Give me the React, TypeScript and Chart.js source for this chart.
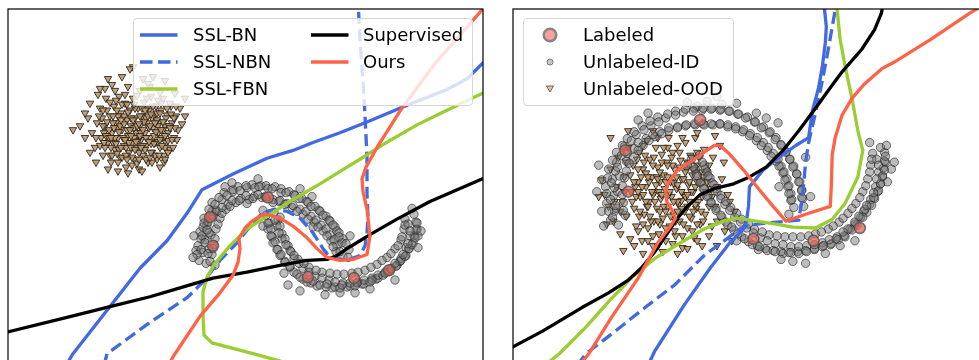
import React, { useEffect, useRef } from "react";
import { Chart, registerables } from "chart.js";
Chart.register(...registerables);

type P = [number, number];

// ---------- Left panel (values read on the figure's own grid) ----------
const leftBN: P[] = [[66,372],[73,360],[110,312],[140,273],[167,245],[187,217],[202,193],[233,177],[267,161],[293,153],[313,145],[340,135],[367,124],[407,107],[447,91],[467,80],[482,65],[492,55]];
const leftNBN: P[] = [[104,372],[107,360],[150,328],[187,303],[203,287],[220,265],[237,247],[252,228],[263,216],[275,213],[287,215],[300,222],[313,237],[323,253],[330,262],[347,265],[360,260],[365,250],[367,237],[368,220],[367,197],[367,160],[365,117],[363,83],[360,40],[358,0]];
const leftFBN: P[] = [[300,373],[253,360],[212,349],[204,341],[203,320],[203,297],[207,282],[215,268],[230,250],[247,233],[267,220],[293,203],[320,187],[347,170],[360,162],[383,147],[417,127],[447,112],[482,95],[495,90]];
const leftSUP: P[] = [[0,340],[7,338],[67,323],[110,312],[150,302],[180,293],[213,283],[247,277],[280,270],[307,265],[327,264],[337,260],[347,253],[360,245],[373,237],[397,223],[430,205],[482,182],[495,176]];
const leftOURS: P[] = [[168,372],[175,360],[200,322],[220,298],[233,280],[238,267],[240,253],[239,243],[245,232],[252,225],[260,220],[267,218],[280,222],[293,230],[307,242],[317,253],[327,262],[340,265],[353,264],[367,259],[370,240],[367,213],[363,195],[362,182],[366,170],[377,150],[400,113],[433,67],[482,10],[490,0]];

const leftLabeled: P[] = [[210,221],[213,250],[268,201],[308,282],[354,283],[389,275]];

const leftID: P[] = [
  [199,265],[206,268],[212,259],[203,257],[210,266],[198,250],[205,244],[214,249],[209,253],[201,243],
  [200,236],[207,229],[216,233],[211,239],[203,231],[204,222],[212,215],[220,222],[208,226],[217,215],
  [212,206],[222,203],[226,213],[216,214],[224,196],[233,195],[236,206],[228,208],[238,190],[247,191],
  [249,203],[241,202],[252,188],[261,189],[262,201],[254,200],[266,189],[275,190],[273,203],[266,201],
  [281,192],[289,195],[287,207],[279,205],[294,198],[302,202],[300,213],[292,211],[307,205],[315,210],
  [311,220],[303,218],[319,214],[326,220],[321,229],[314,226],[329,224],[335,231],[330,239],[323,235],
  [337,235],[343,243],[337,250],[331,245],[342,247],[349,254],[343,261],[336,256],[196,255],[215,270],
  [280,221],[313,231],[247,207],
  [201,254],[208,258],[213,253],[197,259],[202,240],[209,237],[215,243],[205,247],[204,227],[210,221],
  [218,228],[207,234],[209,213],[215,208],[222,217],[213,220],[219,201],[227,199],[230,210],[222,211],
  [233,193],[240,194],[239,204],[232,204],[246,189],[255,191],[253,202],[246,199],[259,190],[268,192],
  [265,200],[258,198],[272,192],[281,196],[280,204],[273,206],[286,196],[295,199],[293,209],[285,208],
  [299,202],[308,206],[306,215],[297,215],[311,210],[320,215],[316,224],[308,223],[323,219],[330,225],
  [326,233],[318,231],[333,229],[339,237],[334,244],[327,240],[339,241],[346,248],[340,256],[333,251],
  [193,262],[225,190],[258,182],[300,192],[350,240],[263,230],[194,240],[232,186],[312,200],[348,262],
  [266,219],[274,216],[278,224],[269,227],[268,233],[277,230],[282,238],[272,241],[273,247],[282,243],
  [288,250],[278,254],[280,260],[290,255],[294,263],[285,266],[290,272],[298,264],[303,273],[294,277],
  [303,284],[309,272],[315,281],[307,287],[317,291],[322,277],[329,285],[320,290],[332,293],[337,279],
  [343,288],[335,292],[347,292],[352,278],[358,287],[350,291],[362,289],[365,275],[372,283],[364,289],
  [376,284],[377,269],[385,277],[378,283],[389,276],[387,262],[397,270],[391,274],[400,266],[395,253],
  [406,260],[401,263],[409,253],[401,244],[413,247],[406,252],[414,240],[404,233],[417,233],[410,240],
  [416,226],[405,223],[414,218],[408,228],[418,240],[300,296],[340,298],
  [268,227],[275,224],[280,230],[271,233],[271,240],[279,237],[285,243],[275,246],[277,254],[286,249],
  [291,256],[281,259],[285,267],[294,260],[299,268],[290,271],[297,279],[304,268],[309,277],[300,282],
  [311,288],[316,275],[322,283],[313,286],[326,292],[330,278],[335,287],[327,289],[340,293],[344,279],
  [350,288],[342,290],[355,291],[358,277],[364,285],[357,288],[370,287],[371,272],[378,280],[372,285],
  [383,280],[382,265],[391,273],[385,278],[396,271],[391,258],[401,265],[395,268],[405,261],[398,250],
  [409,253],[403,259],[412,249],[402,241],[415,242],[408,248],[416,234],[405,229],[417,227],[410,235],
  [288,290],[325,300],[355,298],[395,285],[421,235],[412,212],[263,214],[418,252],[370,294],[284,278]
];

const leftOOD: P[] = [
  [73,132],[80,128],[85,140],[88,120],[92,135],[95,150],[97,125],[100,110],[101,140],[103,158],
  [105,128],[106,100],[108,145],[110,118],[111,165],[112,135],[114,108],[115,152],[116,125],[118,140],
  [119,98],[120,160],[121,115],[122,132],[124,148],[125,105],[126,170],[127,122],[128,138],[129,155],
  [130,112],[131,128],[132,145],[133,100],[134,162],[135,120],[136,135],[137,150],[138,110],[139,172],
  [140,128],[141,142],[142,118],[143,158],[144,104],[145,135],[146,148],[147,125],[148,165],[149,112],
  [150,140],[151,98],[152,155],[153,130],[154,118],[155,145],[156,108],[157,162],[158,135],[159,124],
  [160,150],[161,112],[162,140],[163,100],[164,158],[165,128],[166,145],[167,117],[168,135],[170,152],
  [171,108],[172,125],[174,140],[176,118],[178,132],[180,110],[182,126],[185,118],[96,165],[108,172],
  [118,174],[128,176],[142,174],[160,170],[90,105],[98,96],[105,90],[112,86],[122,78],[115,92],
  [128,88],[140,92],[150,88],[160,94],[108,80],[100,148],[90,155],[85,115],[133,68],[130,70],
  [143,80],[153,78],[100,90],[165,82],[175,95],[185,100],[148,85],[170,105],[118,130],[138,143],
  [126,150],[146,120],[113,145],[152,165],[104,135],[134,130],[158,144],[122,160],
  [102,120],[104,145],[107,112],[109,132],[111,150],[113,125],[115,140],[117,112],[119,152],[120,128],
  [123,140],[124,118],[126,158],[127,132],[129,145],[131,120],[132,160],[134,140],[135,110],[137,128],
  [139,155],[140,118],[141,135],[143,148],[144,124],[146,162],[147,110],[149,130],[151,146],[152,120],
  [154,138],[155,158],[157,115],[158,128],[160,142],[161,105],[163,132],[165,150],[166,120],[168,143],
  [169,128],[171,116],[173,150],[175,130],[177,142],[110,158],[118,165],[132,168],[150,160],[164,165],
  [106,138],[125,96],[137,97],[147,100],[158,102],[116,102],[103,128],[96,140],[99,118],[176,108],
  [103,112],[105,150],[107,124],[109,140],[110,104],[112,158],[114,130],[116,146],[118,118],[119,134],
  [121,150],[122,106],[124,126],[125,142],[127,162],[128,114],[130,132],[131,150],[133,122],[134,106],
  [136,144],[137,166],[139,126],[140,138],[142,110],[143,132],[145,152],[146,140],[148,118],[150,128],
  [151,155],[153,108],[154,146],[156,134],[157,122],[159,158],[160,115],[162,148],[163,124],[165,138],
  [167,110],[168,155],[170,130],[172,142],[174,120],[111,140],[121,122],[131,138],[141,150],[151,116],
  [161,132],[117,156],[135,152],[155,125],[145,112],[127,106],[139,162],[149,144],[165,162],[113,118]
];

// ---------- Right panel ----------
const rightBN: P[] = [[650,372],[657,357],[687,310],[713,273],[733,247],[747,233],[750,225],[752,210],[753,190],[767,173],[783,160],[800,148],[813,140],[817,112],[823,90],[827,67],[830,43],[831,27],[829,8],[829,0]];
const rightNBN: P[] = [[578,372],[587,360],[613,340],[647,313],[677,290],[707,260],[730,243],[743,233],[753,229],[770,227],[803,224],[806,205],[808,187],[810,165],[813,145],[820,115],[827,82],[833,50],[837,27],[840,10],[841,0]];
const rightFBN: P[] = [[545,372],[560,360],[587,333],[610,307],[633,283],[657,263],[683,247],[707,233],[727,225],[740,222],[760,225],[780,228],[797,231],[820,232],[837,223],[850,207],[863,180],[868,153],[863,133],[857,100],[850,67],[845,40],[842,10],[841,0]];
const rightSUP: P[] = [[495,362],[513,353],[543,337],[583,313],[610,298],[630,285],[643,273],[657,256],[670,237],[680,222],[690,210],[703,198],[717,192],[737,187],[753,180],[770,170],[787,153],[803,133],[820,110],[833,92],[847,73],[867,50],[880,30],[887,13],[889,0]];
const rightOURS: P[] = [[580,372],[590,360],[613,323],[640,283],[660,247],[673,230],[678,222],[674,213],[669,205],[668,195],[670,187],[680,173],[697,162],[717,148],[723,148],[733,157],[747,173],[763,193],[777,210],[790,225],[810,218],[835,210],[836,190],[837,157],[840,140],[847,117],[857,100],[870,85],[887,70],[900,63],[937,40],[977,13],[995,2]];

const rightLabeled: P[] = [[627,153],[630,195],[703,122],[757,243],[818,245],[865,232]];

const rightID: P[] = [
  [612,224],[620,229],[627,219],[616,215],[608,207],[615,199],[625,206],[618,212],[607,190],[614,182],
  [624,189],[619,195],[610,172],[618,165],[628,174],[621,179],[618,155],[626,149],[635,160],[628,164],
  [629,141],[638,137],[645,148],[636,151],[644,128],[653,128],[657,139],[648,141],[660,119],[668,120],
  [671,133],[662,134],[678,113],[686,114],[688,128],[680,129],[697,110],[705,112],[706,126],[698,127],
  [715,110],[723,112],[723,126],[716,127],[733,113],[741,116],[739,129],[731,129],[751,119],[758,124],
  [754,136],[746,134],[767,129],[773,135],[767,145],[760,143],[780,140],[785,148],[777,156],[771,153],
  [790,154],[794,162],[785,169],[780,164],[798,169],[801,177],[791,182],[787,176],[804,185],[806,193],
  [795,197],[792,190],[807,202],[808,210],[798,211],[795,204],[603,215],[690,104],[710,103],[725,106],
  [700,108],[782,125],[810,160],[783,190],[793,218],[603,183],[640,122],[760,115],
  [610,215],[617,209],[625,214],[614,221],[608,197],[616,191],[624,198],[612,203],[609,181],[617,174],
  [626,181],[613,186],[614,163],[623,158],[631,166],[619,170],[624,148],[633,143],[640,153],[629,156],
  [636,134],[646,132],[651,143],[640,145],[652,123],[661,124],[664,136],[655,137],[670,116],[678,117],
  [680,130],[671,130],[688,111],[696,113],[697,126],[689,127],[706,110],[714,111],[714,126],[707,127],
  [724,111],[732,113],[731,127],[723,126],[742,116],[749,120],[747,132],[739,131],[759,124],[765,130],
  [761,140],[753,138],[774,134],[779,142],[772,150],[765,148],[785,147],[790,155],[782,162],[775,159],
  [794,162],[797,170],[788,175],[783,169],[801,177],[803,185],[793,189],[789,183],[806,194],[806,201],
  [796,203],[793,197],[598,195],[605,230],[650,115],[720,98],[770,120],[815,200],[600,168],[740,105],
  [694,162],[702,158],[707,168],[698,172],[699,177],[708,172],[713,181],[704,185],[706,192],[715,186],
  [720,195],[711,199],[714,206],[724,199],[728,208],[719,212],[725,221],[734,211],[738,221],[729,226],
  [737,234],[745,223],[750,232],[741,238],[752,246],[758,233],[764,242],[756,249],[769,253],[773,239],
  [779,248],[771,255],[785,256],[789,241],[795,251],[787,258],[802,256],[805,241],[811,250],[803,258],
  [819,254],[820,238],[827,247],[819,253],[835,249],[833,233],[842,241],[836,248],[850,241],[844,226],
  [855,233],[849,240],[862,229],[853,217],[866,221],[860,228],[872,216],[861,207],[875,208],[869,215],
  [880,202],[868,195],[883,195],[876,203],[886,187],[873,182],[888,180],[881,190],[889,171],[876,168],
  [891,165],[884,175],[890,155],[878,156],[886,150],[882,162],[897,172],[893,185],[797,266],[830,258],
  [762,254],[845,250],
  [696,170],[705,165],[710,175],[700,179],[703,186],[711,179],[717,188],[707,192],[710,200],[719,192],
  [724,202],[714,206],[719,214],[729,205],[733,214],[724,219],[731,229],[740,217],[744,226],[735,231],
  [745,241],[752,228],[757,237],[748,243],[761,250],[766,236],[771,245],[763,251],[777,255],[781,240],
  [787,249],[779,256],[793,257],[797,241],[803,251],[795,257],[810,255],[813,240],[819,249],[811,256],
  [827,251],[826,236],[834,244],[828,250],[843,244],[838,230],[848,236],[841,243],[857,234],[848,222],
  [860,226],[853,233],[868,221],[857,212],[870,213],[864,220],[877,209],[865,201],[879,201],[872,209],
  [884,194],[871,189],[886,187],[879,196],[888,179],[875,175],[890,173],[882,182],[890,164],[877,162],
  [891,159],[884,168],[740,245],[810,268],[860,245],[900,165],[875,145],[785,264],[892,148],[690,168]
];

const rightOOD: P[] = [
  [603,183],[606,198],[610,210],[612,172],[615,225],[618,190],[620,160],[622,238],[624,205],[626,180],
  [628,220],[630,150],[632,243],[633,195],[635,168],[636,212],[638,230],[640,185],[641,155],[642,200],
  [644,245],[645,172],[646,218],[648,190],[649,143],[650,232],[651,205],[652,162],[654,180],[655,250],
  [656,225],[657,195],[658,150],[659,212],[660,170],[661,238],[662,185],[663,202],[664,157],[665,222],
  [666,178],[667,192],[668,245],[669,165],[670,210],[671,140],[672,230],[673,185],[674,200],[675,155],
  [676,218],[677,172],[678,240],[679,192],[680,148],[681,208],[682,225],[683,163],[684,182],[685,252],
  [686,198],[687,215],[688,145],[689,172],[690,232],[691,188],[692,205],[693,158],[694,222],[695,178],
  [696,195],[697,242],[698,140],[699,212],[700,168],[702,185],[703,228],[705,200],[707,152],[708,218],
  [710,175],[712,240],[714,192],[716,160],[718,210],[720,225],[723,148],[725,182],[728,235],[731,198],
  [735,245],[738,215],[625,255],[645,258],[665,256],[690,253],[705,250],[720,250],[612,140],[630,133],
  [655,133],[700,135],[718,138],[608,228],[600,200],[648,176],[662,215],[676,186],[655,198],[684,204],
  [632,178],[634,205],[637,190],[639,162],[641,220],[643,180],[645,198],[647,158],[649,210],[651,185],
  [653,225],[655,168],[657,205],[659,180],[661,195],[662,228],[664,165],[666,210],[668,185],[670,150],
  [671,198],[673,220],[675,168],[677,235],[679,180],[680,205],[682,155],[684,195],[686,228],[688,175],
  [690,210],[692,185],[694,160],[696,215],[698,190],[701,205],[703,175],[706,225],[709,195],[712,168],
  [640,235],[650,245],[660,250],[675,248],[695,235],[715,230],[626,195],[622,215],[628,165],[645,148],
  [660,140],[685,140],[700,155],[712,210],[720,190],[727,165],[733,205],[616,205],[636,250],[680,258],
  [636,185],[638,200],[640,172],[642,215],[644,190],[646,165],[648,205],[650,180],[652,220],[654,195],
  [656,160],[658,188],[660,225],[662,175],[664,198],[666,150],[668,215],[670,180],[672,195],[674,160],
  [676,205],[678,225],[680,188],[682,170],[684,212],[686,182],[688,200],[690,165],[692,220],[694,195],
  [696,172],[698,208],[700,185],[702,160],[704,215],[706,180],[640,195],[650,210],[660,182],[670,168],
  [680,215],[690,198],[700,228],[645,228],[655,240],[668,232],[685,240],[700,245],[710,185],[715,200]
];

const COLOR_BN = "#4169E1";
const COLOR_FBN = "#9ACD32";
const COLOR_SUP = "#000000";
const COLOR_OURS = "#FF6347";
const DASH = [12, 5.5];

const toXY = (arr: P[]) => arr.map(([x, y]) => ({ x, y }));

const framePlugin = {
  id: "frame",
  afterDatasetsDraw(chart: any) {
    const { ctx, chartArea: a } = chart;
    ctx.save();
    ctx.strokeStyle = "#000";
    ctx.lineWidth = 1.2;
    ctx.strokeRect(a.left, a.top, a.right - a.left, a.bottom - a.top);
    ctx.restore();
  },
};

function lineDs(label: string, data: P[], color: string, order: number, dash: number[] = []) {
  return {
    label,
    data: toXY(data),
    showLine: true,
    borderColor: color,
    backgroundColor: color,
    borderWidth: 3.3,
    borderDash: dash,
    pointRadius: 0,
    tension: 0,
    fill: false,
    order,
    clip: 0,
    borderJoinStyle: "round",
  };
}

function buildDatasets(bn: P[], nbn: P[], fbn: P[], sup: P[], ours: P[], lab: P[], id: P[], ood: P[]) {
  return [
    lineDs("Ours", ours, COLOR_OURS, 0),
    lineDs("Supervised", sup, COLOR_SUP, 1),
    lineDs("SSL-FBN", fbn, COLOR_FBN, 2),
    lineDs("SSL-NBN", nbn, COLOR_BN, 3, DASH),
    lineDs("SSL-BN", bn, COLOR_BN, 4),
    {
      label: "Labeled",
      data: toXY(lab),
      pointRadius: 5.5,
      pointBackgroundColor: "rgba(215,100,85,0.75)",
      pointBorderColor: "rgba(80,80,80,0.8)",
      pointBorderWidth: 1.5,
      order: 5,
    },
    {
      label: "Unlabeled-ID",
      data: toXY(id),
      pointRadius: 4.2,
      pointBackgroundColor: "rgba(115,115,115,0.48)",
      pointBorderColor: "rgba(35,35,35,0.62)",
      pointBorderWidth: 1,
      order: 6,
    },
    {
      label: "Unlabeled-OOD",
      data: toXY(ood),
      pointStyle: "triangle",
      pointRotation: 180,
      pointRadius: 4.3,
      pointBackgroundColor: "rgba(185,152,112,0.9)",
      pointBorderColor: "rgba(40,30,20,0.85)",
      pointBorderWidth: 1,
      order: 7,
    },
  ];
}

function Panel(props: {
  left: number; width: number; xMin: number; xMax: number;
  pad: { left: number; right: number; top: number; bottom: number };
  datasets: any[];
}) {
  const ref = useRef<HTMLCanvasElement>(null);
  useEffect(() => {
    if (!ref.current) return;
    const chart = new Chart(ref.current, {
      type: "scatter",
      data: { datasets: props.datasets },
      options: {
        animation: false,
        responsive: false,
        events: [],
        layout: { padding: props.pad },
        plugins: { legend: { display: false }, tooltip: { enabled: false } },
        scales: {
          x: { type: "linear", min: props.xMin, max: props.xMax, display: false },
          y: { type: "linear", min: 9, max: 400, reverse: true, display: false },
        },
      } as any,
      plugins: [framePlugin],
    } as any);
    return () => chart.destroy();
  }, []);
  return (
    <canvas
      ref={ref}
      width={props.width}
      height={400}
      style={{ position: "absolute", left: props.left, top: 0, width: props.width, height: 400 }}
    />
  );
}

const FONT = '"DejaVu Sans", "Liberation Sans", sans-serif';

function LegendText({ x, y, text }: { x: number; y: number; text: string }) {
  return (
    <div style={{ position: "absolute", left: x, top: y, transform: "translateY(-50%)", fontFamily: FONT, fontSize: 18, lineHeight: "20px", color: "#000", whiteSpace: "nowrap" }}>
      {text}
    </div>
  );
}

function LineHandle({ x, y, color, dash }: { x: number; y: number; color: string; dash?: boolean }) {
  return (
    <svg style={{ position: "absolute", left: x, top: y - 3 }} width={38} height={6}>
      <line x1={0} y1={3} x2={37.5} y2={3} stroke={color} strokeWidth={3.3} strokeDasharray={dash ? "12.5 5.5" : undefined} />
    </svg>
  );
}

const legendBox: React.CSSProperties = {
  position: "absolute",
  top: 18,
  height: 88,
  boxSizing: "border-box",
  border: "1px solid #d6d6d6",
  borderRadius: 4,
  background: "rgba(255,255,255,0.8)",
};

export default function App() {
  const leftDs = buildDatasets(leftBN, leftNBN, leftFBN, leftSUP, leftOURS, leftLabeled, leftID, leftOOD);
  const rightDs = buildDatasets(rightBN, rightNBN, rightFBN, rightSUP, rightOURS, rightLabeled, rightID, rightOOD);
  return (
    <div style={{ position: "absolute", left: 0, top: 0, width: 979, height: 360, overflow: "hidden", background: "#fff" }}>
      <Panel left={0} width={490} xMin={8} xMax={483} pad={{ left: 8, right: 7, top: 9, bottom: 0 }} datasets={leftDs} />
      <Panel left={490} width={500} xMin={513} xMax={990} pad={{ left: 23, right: 0, top: 9, bottom: 0 }} datasets={rightDs} />

      <div style={{ ...legendBox, left: 133, width: 340 }}>
        <LineHandle x={6} y={16} color={COLOR_BN} />
        <LegendText x={59} y={16} text="SSL-BN" />
        <LineHandle x={6} y={42.5} color={COLOR_BN} dash />
        <LegendText x={59} y={42.5} text="SSL-NBN" />
        <LineHandle x={6} y={69.5} color={COLOR_FBN} />
        <LegendText x={59} y={69.5} text="SSL-FBN" />
        <LineHandle x={177} y={16} color={COLOR_SUP} />
        <LegendText x={229} y={16} text="Supervised" />
        <LineHandle x={177} y={42.5} color={COLOR_OURS} />
        <LegendText x={229} y={42.5} text="Ours" />
      </div>

      <div style={{ ...legendBox, left: 523, width: 211 }}>
        <svg style={{ position: "absolute", left: 17, top: 7 }} width={18} height={18}>
          <circle cx={9} cy={9} r={6.3} fill="#F9A197" stroke="#858585" strokeWidth={2.4} />
        </svg>
        <LegendText x={59} y={16} text="Labeled" />
        <svg style={{ position: "absolute", left: 20, top: 36.5 }} width={12} height={12}>
          <circle cx={6} cy={6} r={3} fill="#c6c6c6" stroke="#7a7a7a" strokeWidth={1} />
        </svg>
        <LegendText x={59} y={42.5} text="Unlabeled-ID" />
        <svg style={{ position: "absolute", left: 20, top: 63.5 }} width={12} height={12}>
          <polygon points="2.5,3 9.5,3 6,9" fill="#DCC7A8" stroke="#6a5f55" strokeWidth={1} />
        </svg>
        <LegendText x={59} y={69.5} text="Unlabeled-OOD" />
      </div>
    </div>
  );
}
